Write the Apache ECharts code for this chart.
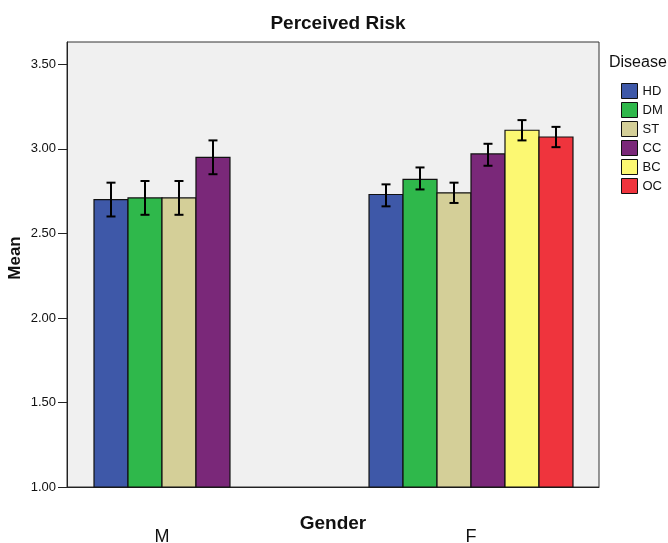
<!DOCTYPE html>
<html>
<head>
<meta charset="utf-8">
<script src="https://cdn.jsdelivr.net/npm/echarts@6/dist/echarts.min.js"></script>
<style>html,body{margin:0;padding:0;background:#fff;}#c{width:668px;height:543px;}</style>
</head>
<body>
<div id="c"></div>
<script>
const genders = ['M', 'F'];
const diseases = ['HD', 'DM', 'ST', 'CC', 'BC', 'OC'];
const meanM = [2.70, 2.71, 2.71, 2.95, null, null];
const lowM  = [2.60, 2.61, 2.61, 2.85, null, null];
const highM = [2.80, 2.81, 2.81, 3.05, null, null];
const meanF = [2.73, 2.82, 2.74, 2.97, 3.11, 3.07];
const lowF  = [2.66, 2.76, 2.68, 2.90, 3.05, 3.01];
const highF = [2.79, 2.89, 2.80, 3.03, 3.17, 3.13];
const yTicks = [1.0, 1.5, 2.0, 2.5, 3.0, 3.5];
const colors = ['#3e58a8', '#2fb84b', '#d4cf98', '#7a2879', '#fcf872', '#ef343d'];

const means = [meanM, meanF];
const lows = [lowM, lowF];
const highs = [highM, highF];
const BAR_UNIT = 0.110;
const FONT = 'Liberation Sans, Arial, sans-serif';

function renderItem(params, api) {
  const g = api.value(0);
  const d = params.seriesIndex;
  const present = means[g].map((v, i) => v != null ? i : -1).filter(i => i >= 0);
  const n = present.length;
  const k = present.indexOf(d);
  const barW = api.size([BAR_UNIT, 0])[0];
  const top = api.coord([g, api.value(1)]);
  const base = api.coord([g, yTicks[0]]);
  const cx = top[0] + (k - (n - 1) / 2) * barW;
  const lo = api.coord([g, api.value(2)])[1];
  const hi = api.coord([g, api.value(3)])[1];
  const cap = 4.5;
  return {
    type: 'group',
    children: [
      { type: 'rect', shape: { x: cx - barW / 2, y: top[1], width: barW, height: base[1] - top[1] },
        style: { fill: colors[d], stroke: '#111', lineWidth: 1.2 } },
      { type: 'line', shape: { x1: cx, y1: lo, x2: cx, y2: hi }, style: { stroke: '#000', lineWidth: 2 } },
      { type: 'line', shape: { x1: cx - cap, y1: lo, x2: cx + cap, y2: lo }, style: { stroke: '#000', lineWidth: 2 } },
      { type: 'line', shape: { x1: cx - cap, y1: hi, x2: cx + cap, y2: hi }, style: { stroke: '#000', lineWidth: 2 } }
    ]
  };
}

const series = diseases.map((name, d) => ({
  name: name,
  type: 'custom',
  renderItem: renderItem,
  color: colors[d],
  itemStyle: { color: colors[d] },
  encode: { x: 0, y: 1 },
  data: genders.map((gName, g) => means[g][d] == null ? null : [g, means[g][d], lows[g][d], highs[g][d]]).filter(x => x)
}));

const chart = echarts.init(document.getElementById('c'), null, { renderer: 'canvas' });
chart.setOption({
  animation: false,
  backgroundColor: '#fff',
  title: [
    { text: 'Perceived Risk', left: 333, top: 9, textAlign: 'center',
      textStyle: { fontFamily: FONT, fontSize: 19, fontWeight: 'bold', color: '#111' } },
    { text: 'Disease', left: 604, top: 50,
      textStyle: { fontFamily: FONT, fontSize: 16, fontWeight: 'normal', color: '#111' } }
  ],
  legend: {
    orient: 'vertical', left: 616, top: 78, itemWidth: 16, itemHeight: 15, itemGap: 3,
    selectedMode: false, icon: 'rect',
    textStyle: { fontFamily: FONT, fontSize: 13, color: '#111' },
    data: diseases.map((n, i) => ({ name: n, itemStyle: { color: colors[i], borderColor: '#111', borderWidth: 1 } }))
  },
  grid: { left: 67, right: 69, top: 42, bottom: 56, containLabel: false, outerBoundsMode: 'none',
    show: true, backgroundColor: '#f0f0f0', borderColor: '#333', borderWidth: 1 },
  xAxis: {
    type: 'value', min: -0.3074, max: 1.4142,
    name: 'Gender', nameLocation: 'middle', nameGap: 27, nameMoveOverlap: false,
    nameTextStyle: { fontFamily: FONT, fontSize: 19, fontWeight: 'bold', color: '#111' },
    axisLine: { show: true, onZero: false, lineStyle: { color: '#222', width: 1 } },
    axisTick: { show: false },
    splitLine: { show: false },
    axisLabel: { customValues: [0, 1], margin: 41, fontFamily: FONT, fontSize: 18, color: '#111',
      formatter: v => genders[Math.round(v)] }
  },
  yAxis: {
    type: 'value', min: 1, max: 3.632, interval: 0.5,
    name: 'Mean', nameLocation: 'middle', nameGap: 43, nameMoveOverlap: false,
    nameTextStyle: { fontFamily: FONT, fontSize: 17, fontWeight: 'bold', color: '#111', padding: [0, 0, 0, 13] },
    axisLine: { show: true, onZero: false, lineStyle: { color: '#222', width: 1 } },
    axisTick: { show: true, customValues: yTicks, length: 9, lineStyle: { color: '#222' } },
    splitLine: { show: false },
    axisLabel: { customValues: yTicks, margin: 11, fontFamily: FONT, fontSize: 13, color: '#111',
      formatter: v => v.toFixed(2) }
  },
  series: series
});
</script>
</body>
</html>
